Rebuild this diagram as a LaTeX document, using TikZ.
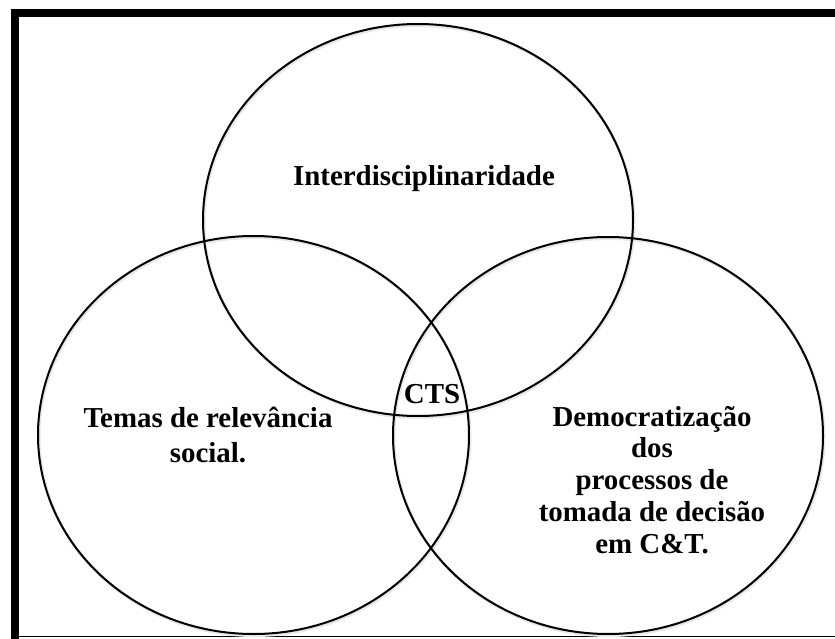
\documentclass[tikz,border=0pt]{standalone}
\usepackage{fontspec}
\setmainfont{Liberation Serif}
\begin{document}
\begin{tikzpicture}[x=1pt,y=-1pt,
  circ/.style={draw=black,line width=2pt},
  shadow/.style={draw=black!9,line width=3pt},
  lbl/.style={font=\bfseries\fontsize{28.9}{32}\selectfont,inner sep=0pt,anchor=base,align=center}]
\useasboundingbox (0,0) rectangle (835,639);
% frame
\fill[black] (11,9) rectangle (835,17);
\fill[black] (11,9) rectangle (19,639);
\draw[black,line width=1.5pt] (19,636.5) -- (835,636.5);
% shadows
\draw[shadow] (419,221.5) ellipse [x radius=215, y radius=196];
\draw[shadow] (254.5,436.5) ellipse [x radius=215.5, y radius=199];
\draw[shadow] (609,437) ellipse [x radius=215, y radius=198.5];
% circles
\draw[circ] (418,220) ellipse [x radius=215, y radius=196];
\draw[circ] (253.5,435) ellipse [x radius=215.5, y radius=199];
\draw[circ] (608,435.5) ellipse [x radius=215, y radius=198.5];
% labels
\node[lbl] (inter) at (424,186) {Interdisciplinaridade};
\node[lbl] (cts) at (432,403) {CTS};
\node[lbl,font=\bfseries\fontsize{28.9}{35}\selectfont] (temas) at (208,462) {Temas de relevância\\social.};
\node[lbl,font=\bfseries\fontsize{28.9}{31.75}\selectfont] (demo) at (652,553) {Democratização\\dos\\processos de\\tomada de decisão\\em C\&T.};
\end{tikzpicture}
\end{document}
